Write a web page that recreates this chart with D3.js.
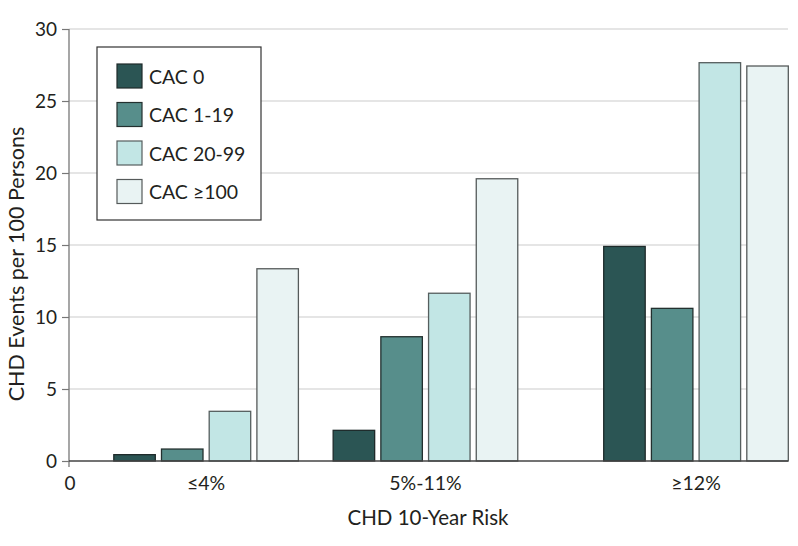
<!DOCTYPE html>
<html>
<head>
<meta charset="utf-8">
<script src="https://d3js.org/d3.v7.min.js"></script>
<style>
  body { margin: 0; background: #fff; }
  text { font-family: Lato, "Open Sans", sans-serif; fill: #231f20; }
</style>
</head>
<body>
<svg id="chart" width="798" height="546"></svg>
<script>
// data
const categories = ['≤4%', '5%-11%', '≥12%'];
const series = ['CAC 0', 'CAC 1-19', 'CAC 20-99', 'CAC ≥100'];
const cac0 = [0.44, 2.13, 14.9];
const cac1to19 = [0.83, 8.63, 10.6];
const cac20to99 = [3.45, 11.65, 27.66];
const cac100 = [13.35, 19.6, 27.43];
const yTicks = [0, 5, 10, 15, 20, 25, 30];

const values = [cac0, cac1to19, cac20to99, cac100];
const colors = ['#2b5554', '#578e8b', '#c2e6e5', '#e9f3f3'];
const strokes = ['#1e2a2a', '#23302f', '#555e5e', '#555a5a'];

// group centres on the risk axis (uneven in the original)
const groupPos = [1.5, 3.9, 6.86];

const svg = d3.select('#chart');
const mLeft = 69, mTop = 29, mBottom = 461, mRight = 788;

const x = d3.scaleLinear().domain([0, 8]).range([mLeft, mLeft + 8 * 91.4]);
const y = d3.scaleLinear().domain([0, 30]).range([mBottom, mTop]);
const inner = d3.scaleBand().domain(series).range([-92.3, 92.3]).paddingInner(0.13);

// grid lines
svg.append('g')
  .selectAll('line')
  .data(yTicks.slice(1))
  .enter().append('line')
    .attr('x1', mLeft).attr('x2', mRight)
    .attr('y1', d => y(d)).attr('y2', d => y(d))
    .style('stroke', '#dcdcdc').style('stroke-width', 1.6);

// bars
const rows = [];
categories.forEach((c, ci) => series.forEach((s, si) => rows.push({c: ci, s: si, v: values[si][ci]})));
svg.append('g')
  .selectAll('rect')
  .data(rows)
  .enter().append('rect')
    .attr('x', d => x(groupPos[d.c]) + inner(series[d.s]))
    .attr('y', d => y(d.v))
    .attr('width', inner.bandwidth())
    .attr('height', d => y(0) - y(d.v))
    .attr('fill', d => colors[d.s])
    .style('stroke', d => strokes[d.s]).style('stroke-width', 1.3);

// y axis
const yAxis = svg.append('g')
  .attr('transform', `translate(${mLeft},0)`)
  .call(d3.axisLeft(y).tickValues(yTicks).tickSize(7).tickPadding(5));
yAxis.select('.domain').remove();
yAxis.selectAll('line').style('stroke', '#777').style('stroke-width', 1.2);
yAxis.selectAll('text').style('font-size', '19px').style('font-family', 'Lato, sans-serif').attr('fill', '#231f20');
svg.append('line')
  .attr('x1', mLeft).attr('x2', mLeft)
  .attr('y1', mTop).attr('y2', mBottom + 6)
  .style('stroke', '#777').style('stroke-width', 1.3);

// x axis
svg.append('line')
  .attr('x1', mLeft).attr('x2', mRight)
  .attr('y1', mBottom).attr('y2', mBottom)
  .style('stroke', '#444').style('stroke-width', 1.3);
svg.append('text')
  .attr('x', x(0) + 1).attr('y', 490)
  .attr('text-anchor', 'middle')
  .style('font-size', '19px')
  .text('0');
svg.append('g')
  .selectAll('text')
  .data(categories)
  .enter().append('text')
    .attr('x', (d, i) => x(groupPos[i]))
    .attr('y', 490)
    .attr('text-anchor', 'middle')
    .style('font-size', '19.5px')
    .text(d => d);

// axis titles
svg.append('text')
  .attr('x', 428).attr('y', 525)
  .attr('text-anchor', 'middle')
  .style('font-size', '20.5px')
  .text('CHD 10-Year Risk');
svg.append('text')
  .attr('transform', 'translate(24,264) rotate(-90)')
  .attr('text-anchor', 'middle')
  .style('font-size', '21.5px')
  .text('CHD Events per 100 Persons');

// legend
const legend = svg.append('g').attr('transform', 'translate(97,47)');
legend.append('rect')
  .attr('width', 164).attr('height', 173)
  .attr('fill', '#fff')
  .style('stroke', '#333').style('stroke-width', 1.2);
const item = legend.selectAll('g.item')
  .data(series)
  .enter().append('g')
    .attr('class', 'item')
    .attr('transform', (d, i) => `translate(20,${17 + i * 38.5})`);
item.append('rect')
  .attr('width', 25).attr('height', 24)
  .attr('fill', (d, i) => colors[i])
  .style('stroke', (d, i) => strokes[i]).style('stroke-width', 1.2);
item.append('text')
  .attr('x', 32).attr('y', 19.5)
  .style('font-size', '19.5px')
  .text(d => d);
</script>
</body>
</html>
